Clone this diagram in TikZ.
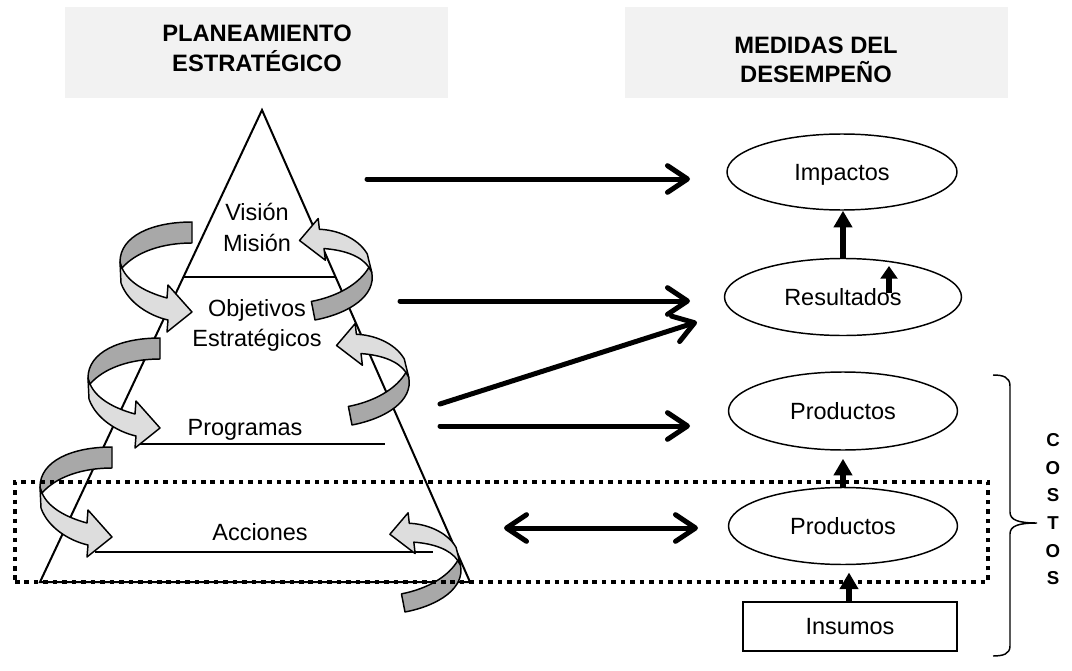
\documentclass[tikz,border=0pt]{standalone}
\usepackage{fontspec}
\setmainfont{Liberation Sans}
\usetikzlibrary{arrows.meta,shapes.geometric}
\definecolor{hdrgray}{HTML}{F2F2F2}
\definecolor{darkg}{HTML}{A8A8A8}
\definecolor{lightg}{HTML}{DDDDDD}
\tikzset{
  txt/.style={inner sep=0pt, text height=12.6pt, text depth=0pt, font=\fontsize{17.6}{21}\selectfont},
  hdrtxt/.style={inner sep=0pt, text height=12.7pt, text depth=0pt, font=\bfseries\fontsize{17.8}{21}\selectfont},
  costtxt/.style={inner sep=0pt, text height=10pt, text depth=0pt, font=\bfseries\fontsize{14}{16}\selectfont},
  hdrbox/.style={fill=hdrgray, draw=none, inner sep=0pt, minimum width=287.25pt, minimum height=68.25pt},
  oval/.style={ellipse, draw, line width=1.1pt, inner sep=0pt, text height=12.6pt, text depth=0pt, font=\fontsize{17.6}{21}\selectfont},
  boxnode/.style={rectangle, draw, line width=0.9pt, inner sep=0pt, text height=12.6pt, text depth=0pt, font=\fontsize{17.6}{21}\selectfont},
  harr/.style={line width=3.75pt, line cap=round, -{Straight Barb[length=15pt, width=20pt, round]}},
  darr/.style={line width=3.75pt, line cap=round, {Straight Barb[length=15pt, width=20pt, round]}-{Straight Barb[length=15pt, width=20pt, round]}},
  blk/.style={line width=4.5pt, -{Triangle[length=12.5pt, width=13.5pt]}},
  sblk/.style={line width=4.2pt, -{Triangle[length=9.5pt, width=12.5pt]}},
  ribbon/.pic={
    \filldraw[fill=lightg, draw=black, line width=1.1pt, line join=round]
      (-72,40) -- (-71,61) .. controls (-64,81) and (-42,94) .. (-24,98)
      -- (-25,110) -- (0,90) -- (-24,63) -- (-25,76)
      .. controls (-47,70) and (-64,60) .. (-70,46) -- cycle;
    \filldraw[fill=darkg, draw=black, line width=1.1pt, line join=round]
      (0,0) .. controls (-40,0) and (-72,14) .. (-72,40) -- (-70,46)
      .. controls (-56,30) and (-30,21) .. (0,21) -- cycle;
  }
}
\begin{document}
\begin{tikzpicture}[x=0.75pt,y=-0.75pt]
\useasboundingbox (0,0) rectangle (1072,671);

% headers
\node[hdrbox] (hb1) at (256.5,52.5) {};
\node[hdrbox] (hb2) at (816.5,52.5) {};
\node[hdrtxt] (h1a) at (257,33) {PLANEAMIENTO};
\node[hdrtxt] (h1b) at (257,63) {ESTRATÉGICO};
\node[hdrtxt] (h2a) at (816,45) {MEDIDAS DEL};
\node[hdrtxt] (h2b) at (816,74) {DESEMPEÑO};

% triangle
\coordinate (apex) at (262,110);
\coordinate (bl) at (40,582);
\coordinate (br) at (470,582);
\draw[line width=1.5pt, line join=miter] (apex) -- (br) -- (bl) -- cycle;
\coordinate (l1a) at (183.5,277); \coordinate (l1b) at (335,277);
\coordinate (l2a) at (140,444); \coordinate (l2b) at (385,444);
\coordinate (l3a) at (95,552); \coordinate (l3b) at (433,552);
\draw[line width=0.8pt] (l1a) -- (l1b);
\draw[line width=0.8pt] (l2a) -- (l2b);
\draw[line width=0.8pt] (l3a) -- (l3b);

\node[txt] (vis) at (257,212) {Visión};
\node[txt] (mis) at (257,243) {Misión};
\node[txt] (obj) at (257,308) {Objetivos};
\node[txt] (est) at (257,338) {Estratégicos};
\node[txt] (prog) at (245,427) {Programas};
\node[txt] (acc) at (260,532) {Acciones};

% ribbon arrows
\pic at (192,222) {ribbon};
\pic at (160,338) {ribbon};
\pic at (112,447) {ribbon};
\pic[rotate=191, scale=0.9] at (315,320) {ribbon};
\pic[rotate=191, scale=0.9] at (352,425) {ribbon};
\pic[rotate=191, scale=0.88] at (405,612) {ribbon};

% dotted box
\node[draw, line width=3pt, dash pattern=on 3.4pt off 3.7pt, inner sep=0pt,
      minimum width=729.75pt, minimum height=75pt] (dotbox) at (501.5,532) {};

% measures
\node[oval, minimum width=172.5pt, minimum height=57pt] (imp) at (842,172) {Impactos};
\node[oval, minimum width=177.75pt, minimum height=57.75pt] (res) at (843,297) {Resultados};
\node[oval, minimum width=171.75pt, minimum height=58.5pt] (p1) at (843,411) {Productos};
\node[oval, minimum width=171.75pt, minimum height=57.75pt] (p2) at (843,526) {Productos};
\node[boxnode, minimum width=160.5pt, minimum height=36.75pt] (ins) at (850,626.5) {Insumos};

% vertical block arrows
\draw[blk] (res.north) -- (res.north |- imp.south);
\coordinate (sa1) at (889,293); \coordinate (sa2) at (889,266);
\draw[sblk] (sa1) -- (sa2);
\draw[blk, shorten >=6pt] (p2.north) -- (p2.north |- p1.south);
\draw[blk, shorten >=6pt] (ins.north -| 849,0) -- (849,564.5);

% horizontal arrows
\coordinate (s1) at (367,179); \coordinate (e1) at (690,179);
\coordinate (s2) at (400,301); \coordinate (e2) at (690,301);
\coordinate (s3) at (440,404); \coordinate (e3) at (697,322);
\coordinate (s4) at (440,426); \coordinate (e4) at (690,426);
\coordinate (s5) at (504,528); \coordinate (e5) at (698,528);
\draw[harr] (s1) -- (e1);
\draw[harr] (s2) -- (e2);
\draw[harr] (s3) -- (e3);
\draw[harr] (s4) -- (e4);
\draw[darr] (s5) -- (e5);

% brace
\coordinate (bt) at (993,375);
\coordinate (bm) at (1037,523);
\coordinate (bb) at (993,656);
\draw[line width=1.1pt] (bt) .. controls (1003,375) and (1010,377) .. (1010,386)
  -- (1010,512) .. controls (1010,520) and (1018,523) .. (bm)
  .. controls (1018,523) and (1010,526) .. (1010,534)
  -- (1010,646) .. controls (1010,654) and (1003,656) .. (bb);

% COSTOS
\node[costtxt] (c1) at (1053,440) {C};
\node[costtxt] (c2) at (1053,468) {O};
\node[costtxt] (c3) at (1053,495) {S};
\node[costtxt] (c4) at (1053,523) {T};
\node[costtxt] (c5) at (1053,551) {O};
\node[costtxt] (c6) at (1053,578) {S};
\end{tikzpicture}
\end{document}
